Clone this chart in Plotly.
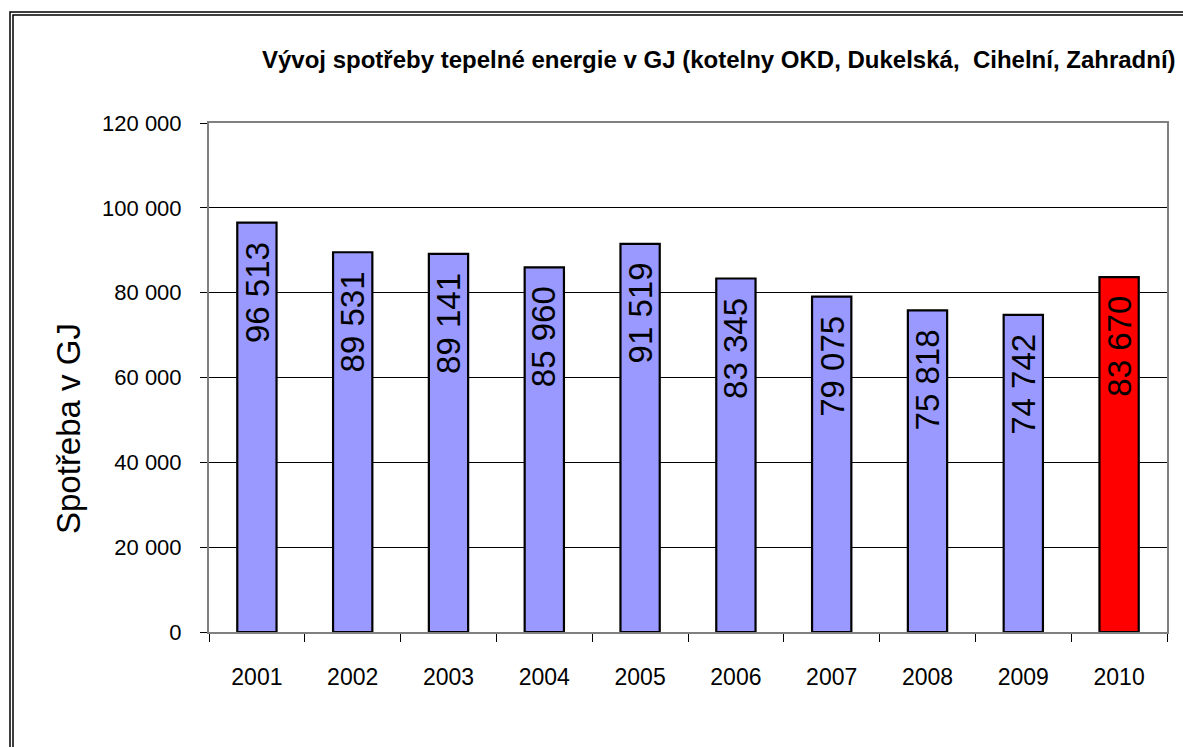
import plotly.graph_objects as go

years = ["2001", "2002", "2003", "2004", "2005", "2006", "2007", "2008", "2009", "2010"]
values = [96513, 89531, 89141, 85960, 91519, 83345, 79075, 75818, 74742, 83670]
bar_colors = ["#9999FF"] * 9 + ["#FF0000"]
y_ticks = [0, 20000, 40000, 60000, 80000, 100000, 120000]
title_text = "Vývoj spotřeby tepelné energie v GJ (kotelny OKD, Dukelská,  Cihelní, Zahradní)"
y_title = "Spotřeba v GJ"


def fmt(v):
    return f"{v:,}".replace(",", " ")


W, H = 1183, 747
L, R, T, B = 209, 16, 123, 115
pw, ph = W - L - R, H - T - B
FONT = "Liberation Sans, Arial"


def px_x(p):
    return (p - L) / pw


def px_y(p):
    return (H - B - p) / ph


fig = go.Figure()
fig.add_trace(go.Bar(
    x=years, y=values,
    marker=dict(color=bar_colors, line=dict(color="black", width=2.2)),
    hoverinfo="x+y",
))

# value labels inside bars, rotated, near the top of each bar
for i, v in enumerate(values):
    fig.add_annotation(
        x=i, y=v, xref="x", yref="y",
        text=fmt(v), textangle=-90, showarrow=False,
        xanchor="center", yanchor="top", yshift=-17,
        font=dict(family=FONT, size=33, color="black"),
    )

# y-axis title (placed as in the original, below the plot centre)
fig.add_annotation(
    x=px_x(68), y=px_y(429), xref="paper", yref="paper",
    text=y_title, textangle=-90, showarrow=False,
    xanchor="center", yanchor="middle",
    font=dict(family=FONT, size=33, color="black"),
)

fig.update_layout(
    width=W, height=H,
    margin=dict(l=L, r=R, t=T, b=B),
    paper_bgcolor="white", plot_bgcolor="white",
    bargap=0.59,
    showlegend=False,
    title=dict(text="<b>" + title_text + "</b>", x=px_x(262), xanchor="left", xref="paper",
               y=1 - 60 / H, yanchor="middle",
               font=dict(family=FONT, size=24, color="black")),
    font=dict(family=FONT, color="black"),
)
fig.update_xaxes(
    type="category",
    range=[-0.5, len(years) - 0.5],
    tickson="boundaries",
    ticks="outside", ticklen=8, tickcolor="black", tickwidth=1,
    showline=True, linecolor="#808080", linewidth=2, mirror=True,
    showgrid=False,
    tickfont=dict(family=FONT, size=23, color="black"),
    tickangle=0,
    ticklabelstandoff=23,
)
fig.update_yaxes(
    range=[0, 120000],
    tickvals=y_ticks, ticktext=[fmt(v) for v in y_ticks],
    ticks="outside", ticklen=7, tickcolor="black", tickwidth=1,
    showline=True, linecolor="#808080", linewidth=2, mirror=True,
    showgrid=True, gridcolor="black", gridwidth=1,
    zeroline=False,
    tickfont=dict(family=FONT, size=22, color="black"),
    ticklabelstandoff=14,
)

# outer double frame
for off in (0, 3):
    fig.add_shape(type="rect", xref="paper", yref="paper",
                  x0=px_x(10 + off), x1=px_x(1200), y0=px_y(12 + off), y1=px_y(780),
                  line=dict(color="black", width=1.5), layer="below")

fig.write_html("out.html", config={"displayModeBar": False},
               post_script="document.body.style.margin='0px';")
